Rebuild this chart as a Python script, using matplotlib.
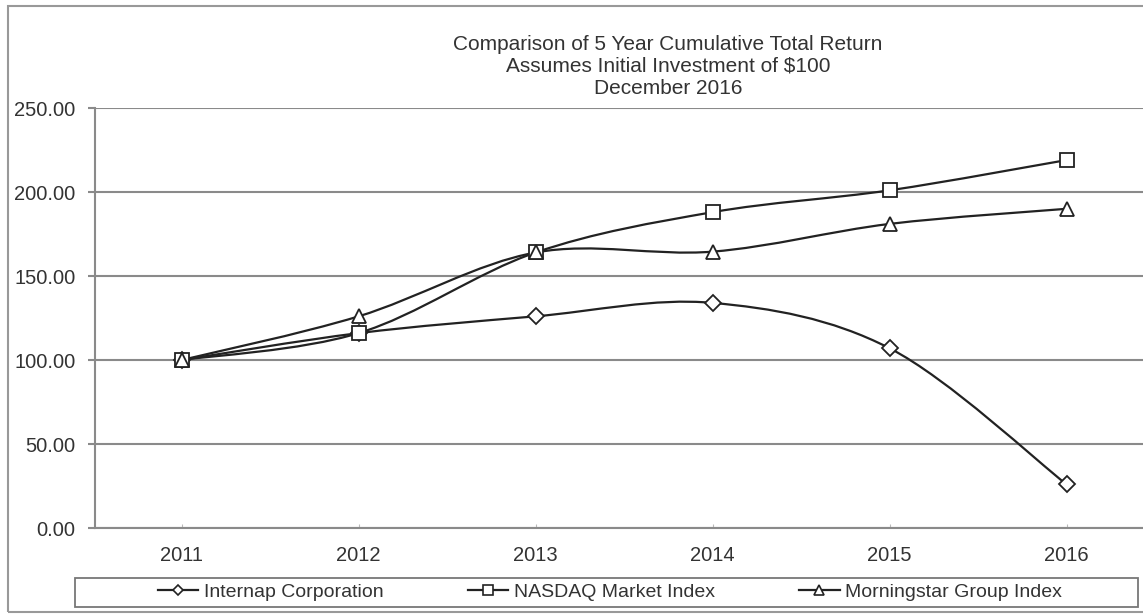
import numpy as np
import matplotlib.pyplot as plt
from matplotlib.path import Path
from matplotlib.patches import PathPatch, Rectangle
from matplotlib.lines import Line2D

plt.rcParams['font.family'] = ['Liberation Sans', 'DejaVu Sans']

years = ['2011', '2012', '2013', '2014', '2015', '2016']
internap = [100.00, 116.0, 126.0, 134.0, 107.0, 26.0]
nasdaq = [100.00, 116.0, 164.0, 188.0, 201.0, 219.0]
morningstar = [100.00, 126.0, 164.0, 164.5, 181.0, 190.0]

series = [
    ("Internap Corporation", internap, 'D', 8),
    ("NASDAQ Market Index", nasdaq, 's', 10),
    ("Morningstar Group Index", morningstar, '^', 10),
]

ink = '#222222'
grey = '#8a8a8a'
txt = '#333333'


def smooth_path(xs, ys):
    # Excel-like smoothed line: cubic Bezier segments, 1/6 tension
    pts = np.column_stack([xs, ys]).astype(float)
    n = len(pts)
    verts = [pts[0]]
    codes = [Path.MOVETO]
    for i in range(n - 1):
        p0 = pts[i - 1] if i > 0 else pts[i]
        p1 = pts[i]
        p2 = pts[i + 1]
        p3 = pts[i + 2] if i + 2 < n else pts[i + 1]
        c1 = p1 + (p2 - p0) / 6.0
        c2 = p2 - (p3 - p1) / 6.0
        verts += [c1, c2, p2]
        codes += [Path.CURVE4] * 3
    return Path(verts, codes)


fig = plt.figure(figsize=(11.43, 6.14), dpi=100)
fig.patches.append(Rectangle((8 / 1143, 2 / 614), 1.2, 606 / 614, transform=fig.transFigure,
                             fill=False, edgecolor='#999999', linewidth=1.5))
# legend box (wider than its content, as in the original)
fig.patches.append(Rectangle((75 / 1143, 1 - 607 / 614), 1063 / 1143, 29 / 614, transform=fig.transFigure,
                             fill=False, edgecolor='#777777', linewidth=1.3))

ax = fig.add_axes([95 / 1143, 86 / 614, 1060 / 1143, 420 / 614])
x = np.arange(len(years))
for name, vals, mk, ms in series:
    ax.add_patch(PathPatch(smooth_path(x, vals), fill=False, edgecolor=ink, lw=1.6, zorder=3))
    ax.plot(x, vals, linestyle='none', marker=mk, markersize=ms, markerfacecolor='white',
            markeredgecolor=ink, markeredgewidth=1.3, zorder=4)

ax.set_xlim(-0.49, 5.5)
ax.set_ylim(0, 250)
ax.set_yticks(np.arange(0, 251, 50))
ax.set_yticklabels(['%.2f' % v for v in np.arange(0, 251, 50)])
ax.set_xticks(x)
ax.set_xticklabels(years)
ax.yaxis.grid(True, color=grey, lw=1.5)
ax.set_axisbelow(True)
for s in ['top', 'right']:
    ax.spines[s].set_visible(False)
ax.spines['left'].set_color(grey)
ax.spines['left'].set_linewidth(1.5)
ax.spines['bottom'].set_color(grey)
ax.spines['bottom'].set_linewidth(1.5)
ax.tick_params(axis='y', length=5, color=grey, width=1.5, labelsize=14.5, labelcolor=txt, pad=9)
ax.tick_params(axis='x', length=3, color='#bbbbbb', direction='in', labelsize=14.5, labelcolor=txt, pad=13)

fig.text(668 / 1143, 1 - 44 / 614, "Comparison of 5 Year Cumulative Total Return", ha='center', va='center',
         fontsize=15, color=txt)
fig.text(668 / 1143, 1 - 66 / 614, "Assumes Initial Investment of $100", ha='center', va='center',
         fontsize=15, color=txt)
fig.text(668 / 1143, 1 - 88 / 614, "December 2016", ha='center', va='center', fontsize=15, color=txt)

handles = [Line2D([], [], color=ink, lw=1.6, marker=mk, markersize=ms * 0.7, markerfacecolor='white',
                  markeredgecolor=ink, markeredgewidth=1.2) for _, _, mk, ms in series]
leg = fig.legend(handles, [s[0] for s in series], loc='center', ncol=3,
                 bbox_to_anchor=(610 / 1143, 1 - 592 / 614), frameon=False,
                 fontsize=14, handlelength=2.1, handletextpad=0.3,
                 columnspacing=4.3, borderpad=0.3)
for t in leg.get_texts():
    t.set_color(txt)

plt.savefig('out.png', dpi=100)
